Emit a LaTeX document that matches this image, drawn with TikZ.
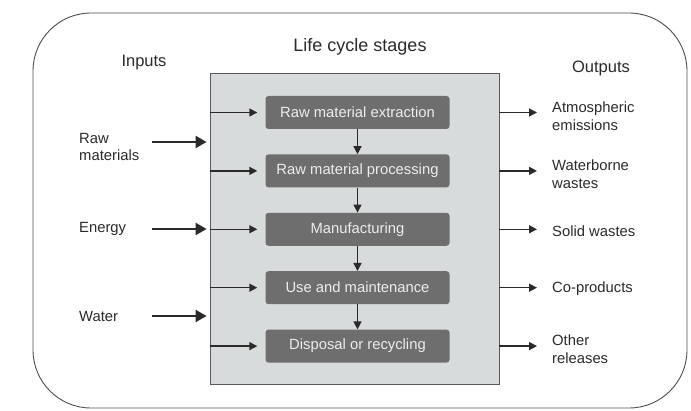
\documentclass[tikz,border=0pt]{standalone}
\usepackage{fontspec}
\setmainfont{Liberation Sans}
\usepackage{tikz}
\usetikzlibrary{
    arrows.meta,
    positioning,
    calc
}
\definecolor{inkgray}{HTML}{2A2A2A}
\definecolor{stagefill}{HTML}{6E6E6E}
\definecolor{stagetext}{HTML}{EDEDED}
\definecolor{panelfill}{HTML}{D8DBDB}
\definecolor{panelline}{HTML}{5A5A5A}
\tikzset{
    % --- Life cycle stage (dark rounded box) ---
    stage/.style = {
        rectangle, fill=stagefill, rounded corners=3pt,
        minimum width=184pt, minimum height=33pt,
        text=stagetext, inner sep=0pt,
        font=\fontsize{14.8}{17.5}\selectfont
    },
    % --- Shaded panel holding the stages ---
    panel/.style = {
        rectangle, draw=panelline, fill=panelfill, line width=0.8pt,
        minimum width=289pt, minimum height=311pt, inner sep=0pt
    },
    % --- Outer frame ---
    frame/.style = {
        draw=black!70, line width=0.9pt, rounded corners=58pt
    },
    % --- Input / output names ---
    io label/.style = {
        anchor=west, align=left, text=inkgray, inner sep=0pt,
        font=\fontsize{14.8}{17.5}\selectfont
    },
    % --- Column headings ---
    heading/.style = {
        text=inkgray, font=\fontsize{16.5}{19}\selectfont
    },
    % --- Thick arrow from an input into the panel ---
    in arrow/.style = {
        -{Triangle[length=11pt,width=12pt]}, line width=2.1pt, draw=inkgray
    },
    % --- Thin arrow inside / out of the panel ---
    data arrow/.style = {
        -{Triangle[length=8pt,width=8pt]}, line width=1.4pt, draw=inkgray
    }
}

\begin{document}
\begin{tikzpicture}[x=1pt, y=-1pt]

\useasboundingbox (0,0) rectangle (691,411);

% ---------------------------------------------------------
% Frame, panel and headings
% ---------------------------------------------------------
\draw[frame] (33,13) rectangle (687,408);
\node[panel] (Panel) at (354.5,228.5) {};

\node[heading, font=\fontsize{18}{20}\selectfont] (Title) at (360,47) {Life cycle stages};
\node[heading] (Inputs)  at (144,63) {Inputs};
\node[heading] (Outputs) at (601,68) {Outputs};

% ---------------------------------------------------------
% Stages
% ---------------------------------------------------------
\node[stage] (Extract) at (357.5,112.5) {Raw material extraction};
\node[stage, below=25pt of Extract] (Process) {Raw material processing};
\node[stage, below=25pt of Process] (Manuf)   {Manufacturing};
\node[stage, below=25pt of Manuf]   (Use)     {Use and maintenance};
\node[stage, below=25pt of Use]     (Dispose) {Disposal or recycling};

\draw[data arrow] (Extract) -- (Process);
\draw[data arrow] (Process) -- (Manuf);
\draw[data arrow] (Manuf)   -- (Use);
\draw[data arrow] (Use)     -- (Dispose);

% feeds from the panel edge
\draw[data arrow, shorten >=8pt] (Panel.west |- Extract) -- (Extract.west);
\draw[data arrow, shorten >=8pt] (Panel.west |- Process) -- (Process.west);
\draw[data arrow, shorten >=8pt] (Panel.west |- Manuf)   -- (Manuf.west);
\draw[data arrow, shorten >=8pt] (Panel.west |- Use)     -- (Use.west);
\draw[data arrow, shorten >=8pt] (Panel.west |- Dispose) -- (Dispose.west);

% ---------------------------------------------------------
% Inputs (left)
% ---------------------------------------------------------
\coordinate (InTail) at (152,0);
\node[io label] (RawMat) at (79,147) {Raw\\materials};
\node[io label] (Energy) at (79,229) {Energy};
\node[io label] (Water)  at (79,316) {Water};

\draw[in arrow, shorten >=3pt] ([yshift=5pt]InTail |- RawMat) -- ([yshift=5pt]Panel.west |- RawMat);
\draw[in arrow, shorten >=3pt] (InTail |- Energy) -- (Panel.west |- Energy);
\draw[in arrow, shorten >=3pt] (InTail |- Water)  -- (Panel.west |- Water);

% ---------------------------------------------------------
% Outputs (right)
% ---------------------------------------------------------
\coordinate (OutHead) at (537,0);
\node[io label] (Atmos)  at (552,116) {Atmospheric\\emissions};
\node[io label] (WaterW) at (552,174) {Waterborne\\wastes};
\node[io label] (Solid)  at (552,231) {Solid wastes};
\node[io label] (CoProd) at (552,289) {Co-products};
\node[io label] (Other)  at (552,349) {Other\\releases};

\draw[data arrow] (Panel.east |- Extract) -- (OutHead |- Extract);
\draw[data arrow] (Panel.east |- Process) -- (OutHead |- Process);
\draw[data arrow] (Panel.east |- Manuf)   -- (OutHead |- Manuf);
\draw[data arrow] (Panel.east |- Use)     -- (OutHead |- Use);
\draw[data arrow] (Panel.east |- Dispose) -- (OutHead |- Dispose);

\end{tikzpicture}
\end{document}
